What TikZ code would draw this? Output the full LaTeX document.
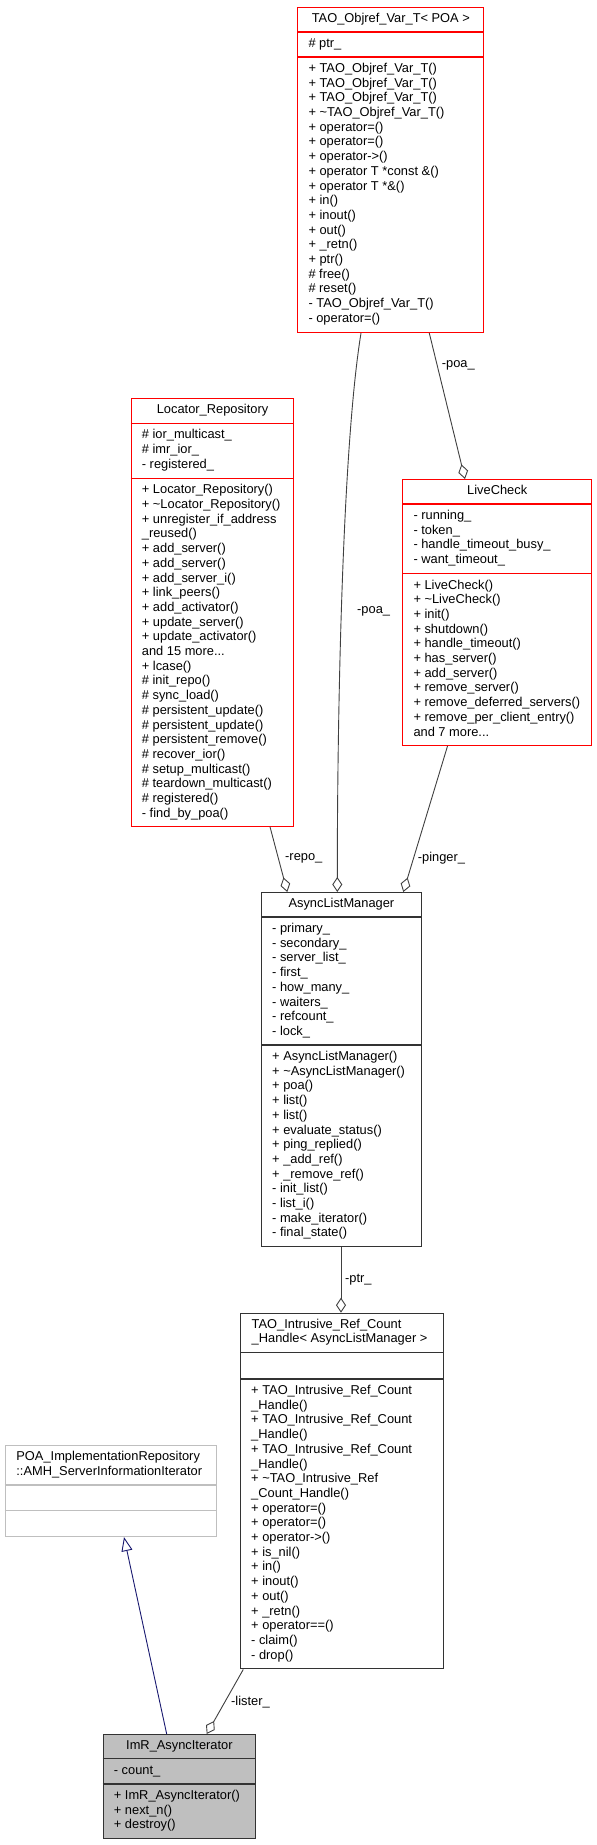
\documentclass[tikz,border=0pt]{standalone}
\usepackage{fontspec}
\setmainfont{Liberation Sans}
\usetikzlibrary{arrows.meta}
\definecolor{navy}{RGB}{25,25,112}
\definecolor{gseventy}{RGB}{191,191,191}
\definecolor{edgegray}{RGB}{64,64,64}
\newcommand\tl{\textasciitilde}
\begin{document}
\begin{tikzpicture}[x=1pt,y=-1pt,
  txt/.style={anchor=north west, inner sep=0pt, align=left, font=\fontsize{12.85}{14.7}\selectfont},
  hdr/.style={anchor=north, inner sep=0pt, align=center, font=\fontsize{12.85}{14.7}\selectfont},
  lbl/.style={anchor=west, inner sep=0pt, font=\fontsize{12.85}{14.7}\selectfont},
  clsbox/.style={draw=#1, line width=1.1pt, inner sep=0pt, anchor=north west},
  sepline/.style={draw=#1, line width=1.1pt},
  use/.style={draw=edgegray, line width=0.9pt, -{Diamond[open,length=15pt,width=10pt,line width=0.9pt]}},
  inh/.style={draw=navy, line width=0.9pt, -{Triangle[open,length=14pt,width=11pt,line width=0.9pt]}},
]
\fill[white] (0,0) rectangle (597,1845);
\useasboundingbox (0,0) rectangle (597,1845);

% ---------- TAO_Objref_Var_T< POA >
\node[clsbox=red, minimum width=186pt, minimum height=325pt] (tao) at (297.3,7) {};
\draw[sepline=red] ([yshift=-25pt]tao.north west) -- ([yshift=-25pt]tao.north east);
\draw[sepline=red] ([yshift=-50pt]tao.north west) -- ([yshift=-50pt]tao.north east);
\node[hdr] (tao-h) at ([yshift=-5pt]tao.north) {\strut TAO\_Objref\_Var\_T< POA >};
\node[txt] (tao-a) at ([xshift=11pt,yshift=-30pt]tao.north west) {\strut \# ptr\_};
\node[txt] (tao-m) at ([xshift=11pt,yshift=-55pt]tao.north west) {\strut + TAO\_Objref\_Var\_T()\\
+ TAO\_Objref\_Var\_T()\\
+ TAO\_Objref\_Var\_T()\\
+ \tl TAO\_Objref\_Var\_T()\\
+ operator=()\\
+ operator=()\\
+ operator->()\\
+ operator T *const \&()\\
+ operator T *\&()\\
+ in()\\
+ inout()\\
+ out()\\
+ \_retn()\\
+ ptr()\\
\# free()\\
\# reset()\\
- TAO\_Objref\_Var\_T()\\
- operator=()};

% ---------- Locator_Repository
\node[clsbox=red, minimum width=162.6pt, minimum height=427.4pt] (loc) at (130.7,398.3) {};
\draw[sepline=red] ([yshift=-25pt]loc.north west) -- ([yshift=-25pt]loc.north east);
\draw[sepline=red] ([yshift=-80pt]loc.north west) -- ([yshift=-80pt]loc.north east);
\node[hdr] (loc-h) at ([yshift=-5pt]loc.north) {\strut Locator\_Repository};
\node[txt] (loc-a) at ([xshift=11pt,yshift=-30pt]loc.north west) {\strut \# ior\_multicast\_\\
\# imr\_ior\_\\
- registered\_};
\node[txt] (loc-m) at ([xshift=11pt,yshift=-85pt]loc.north west) {\strut + Locator\_Repository()\\
+ \tl Locator\_Repository()\\
+ unregister\_if\_address\\
\_reused()\\
+ add\_server()\\
+ add\_server()\\
+ add\_server\_i()\\
+ link\_peers()\\
+ add\_activator()\\
+ update\_server()\\
+ update\_activator()\\
and 15 more...\\
+ lcase()\\
\# init\_repo()\\
\# sync\_load()\\
\# persistent\_update()\\
\# persistent\_update()\\
\# persistent\_remove()\\
\# recover\_ior()\\
\# setup\_multicast()\\
\# teardown\_multicast()\\
\# registered()\\
- find\_by\_poa()};

% ---------- LiveCheck
\node[clsbox=red, minimum width=188.7pt, minimum height=266pt] (lc) at (402.3,479) {};
\draw[sepline=red] ([yshift=-25pt]lc.north west) -- ([yshift=-25pt]lc.north east);
\draw[sepline=red] ([yshift=-94.5pt]lc.north west) -- ([yshift=-94.5pt]lc.north east);
\node[hdr] (lc-h) at ([yshift=-5pt]lc.north) {\strut LiveCheck};
\node[txt] (lc-a) at ([xshift=11pt,yshift=-30pt]lc.north west) {\strut - running\_\\
- token\_\\
- handle\_timeout\_busy\_\\
- want\_timeout\_};
\node[txt] (lc-m) at ([xshift=11pt,yshift=-99.5pt]lc.north west) {\strut + LiveCheck()\\
+ \tl LiveCheck()\\
+ init()\\
+ shutdown()\\
+ handle\_timeout()\\
+ has\_server()\\
+ add\_server()\\
+ remove\_server()\\
+ remove\_deferred\_servers()\\
+ remove\_per\_client\_entry()\\
and 7 more...};

% ---------- AsyncListManager
\node[clsbox=black!80, minimum width=159.7pt, minimum height=354pt] (alm) at (261,892) {};
\draw[sepline=black!80] ([yshift=-25pt]alm.north west) -- ([yshift=-25pt]alm.north east);
\draw[sepline=black!80] ([yshift=-153pt]alm.north west) -- ([yshift=-153pt]alm.north east);
\node[hdr] (alm-h) at ([yshift=-5pt]alm.north) {\strut AsyncListManager};
\node[txt] (alm-a) at ([xshift=11pt,yshift=-30pt]alm.north west) {\strut - primary\_\\
- secondary\_\\
- server\_list\_\\
- first\_\\
- how\_many\_\\
- waiters\_\\
- refcount\_\\
- lock\_};
\node[txt] (alm-m) at ([xshift=11pt,yshift=-158pt]alm.north west) {\strut + AsyncListManager()\\
+ \tl AsyncListManager()\\
+ poa()\\
+ list()\\
+ list()\\
+ evaluate\_status()\\
+ ping\_replied()\\
+ \_add\_ref()\\
+ \_remove\_ref()\\
- init\_list()\\
- list\_i()\\
- make\_iterator()\\
- final\_state()};

% ---------- TAO_Intrusive_Ref_Count_Handle< AsyncListManager >
\node[clsbox=black!80, minimum width=203.3pt, minimum height=355.6pt] (tirc) at (240,1312.7) {};
\draw[sepline=black!80] ([yshift=-40pt]tirc.north west) -- ([yshift=-40pt]tirc.north east);
\draw[sepline=black!80] ([yshift=-66.3pt]tirc.north west) -- ([yshift=-66.3pt]tirc.north east);
\node[txt] (tirc-h) at ([xshift=11.5pt,yshift=-5pt]tirc.north west) {\strut TAO\_Intrusive\_Ref\_Count\\
\_Handle< AsyncListManager >};
\node[txt] (tirc-m) at ([xshift=11pt,yshift=-71.3pt]tirc.north west) {\strut + TAO\_Intrusive\_Ref\_Count\\
\_Handle()\\
+ TAO\_Intrusive\_Ref\_Count\\
\_Handle()\\
+ TAO\_Intrusive\_Ref\_Count\\
\_Handle()\\
+ \tl TAO\_Intrusive\_Ref\\
\_Count\_Handle()\\
+ operator=()\\
+ operator=()\\
+ operator->()\\
+ is\_nil()\\
+ in()\\
+ inout()\\
+ out()\\
+ \_retn()\\
+ operator==()\\
- claim()\\
- drop()};

% ---------- POA_ImplementationRepository::AMH_ServerInformationIterator
\node[clsbox=gseventy, minimum width=211.3pt, minimum height=91pt] (poa) at (4.7,1445) {};
\draw[sepline=gseventy] ([yshift=-40pt]poa.north west) -- ([yshift=-40pt]poa.north east);
\draw[sepline=gseventy] ([yshift=-65.3pt]poa.north west) -- ([yshift=-65.3pt]poa.north east);
\node[txt] (poa-h) at ([xshift=11.5pt,yshift=-5pt]poa.north west) {\strut POA\_ImplementationRepository\\
::AMH\_ServerInformationIterator};

% ---------- ImR_AsyncIterator
\node[clsbox=black!80, fill=gseventy, minimum width=152.3pt, minimum height=104.3pt] (imr) at (102.7,1734) {};
\draw[sepline=black!80] ([yshift=-24.5pt]imr.north west) -- ([yshift=-24.5pt]imr.north east);
\draw[sepline=black!80] ([yshift=-50pt]imr.north west) -- ([yshift=-50pt]imr.north east);
\node[hdr] (imr-h) at ([yshift=-5pt]imr.north) {\strut ImR\_AsyncIterator};
\node[txt] (imr-a) at ([xshift=11pt,yshift=-29.5pt]imr.north west) {\strut - count\_};
\node[txt] (imr-m) at ([xshift=11pt,yshift=-55pt]imr.north west) {\strut + ImR\_AsyncIterator()\\
+ next\_n()\\
+ destroy()};

% ---------- connectors
\draw[use] ([xshift=63.7pt]tao.south west) .. controls (342,450) and (337.3,720) .. ([xshift=76.3pt]alm.north west);
\node[lbl] (l-poa1) at (357,611.7) {-poa\_};
\draw[use] ([xshift=132pt]tao.south west) -- ([xshift=62.7pt]lc.north west);
\node[lbl] (l-poa2) at (441.7,365) {-poa\_};
\draw[use] ([xshift=139.3pt]loc.south west) -- ([xshift=26.3pt]alm.north west);
\node[lbl] (l-repo) at (285,858.3) {-repo\_};
\draw[use] ([xshift=45.2pt]lc.south west) -- ([xshift=142.3pt]alm.north west);
\node[lbl] (l-pinger) at (417.7,858.3) {-pinger\_};
\draw[use] ([xshift=80pt]alm.south west) -- ([xshift=101pt]tirc.north west);
\node[lbl] (l-ptr) at (345,1280) {-ptr\_};
\draw[use] ([xshift=3.3pt]tirc.south west) -- ([xshift=104pt]imr.north west);
\node[lbl] (l-lister) at (231,1701.7) {-lister\_};
\draw[inh] ([xshift=64pt]imr.north west) -- ([xshift=119.3pt]poa.south west);
\end{tikzpicture}
\end{document}
